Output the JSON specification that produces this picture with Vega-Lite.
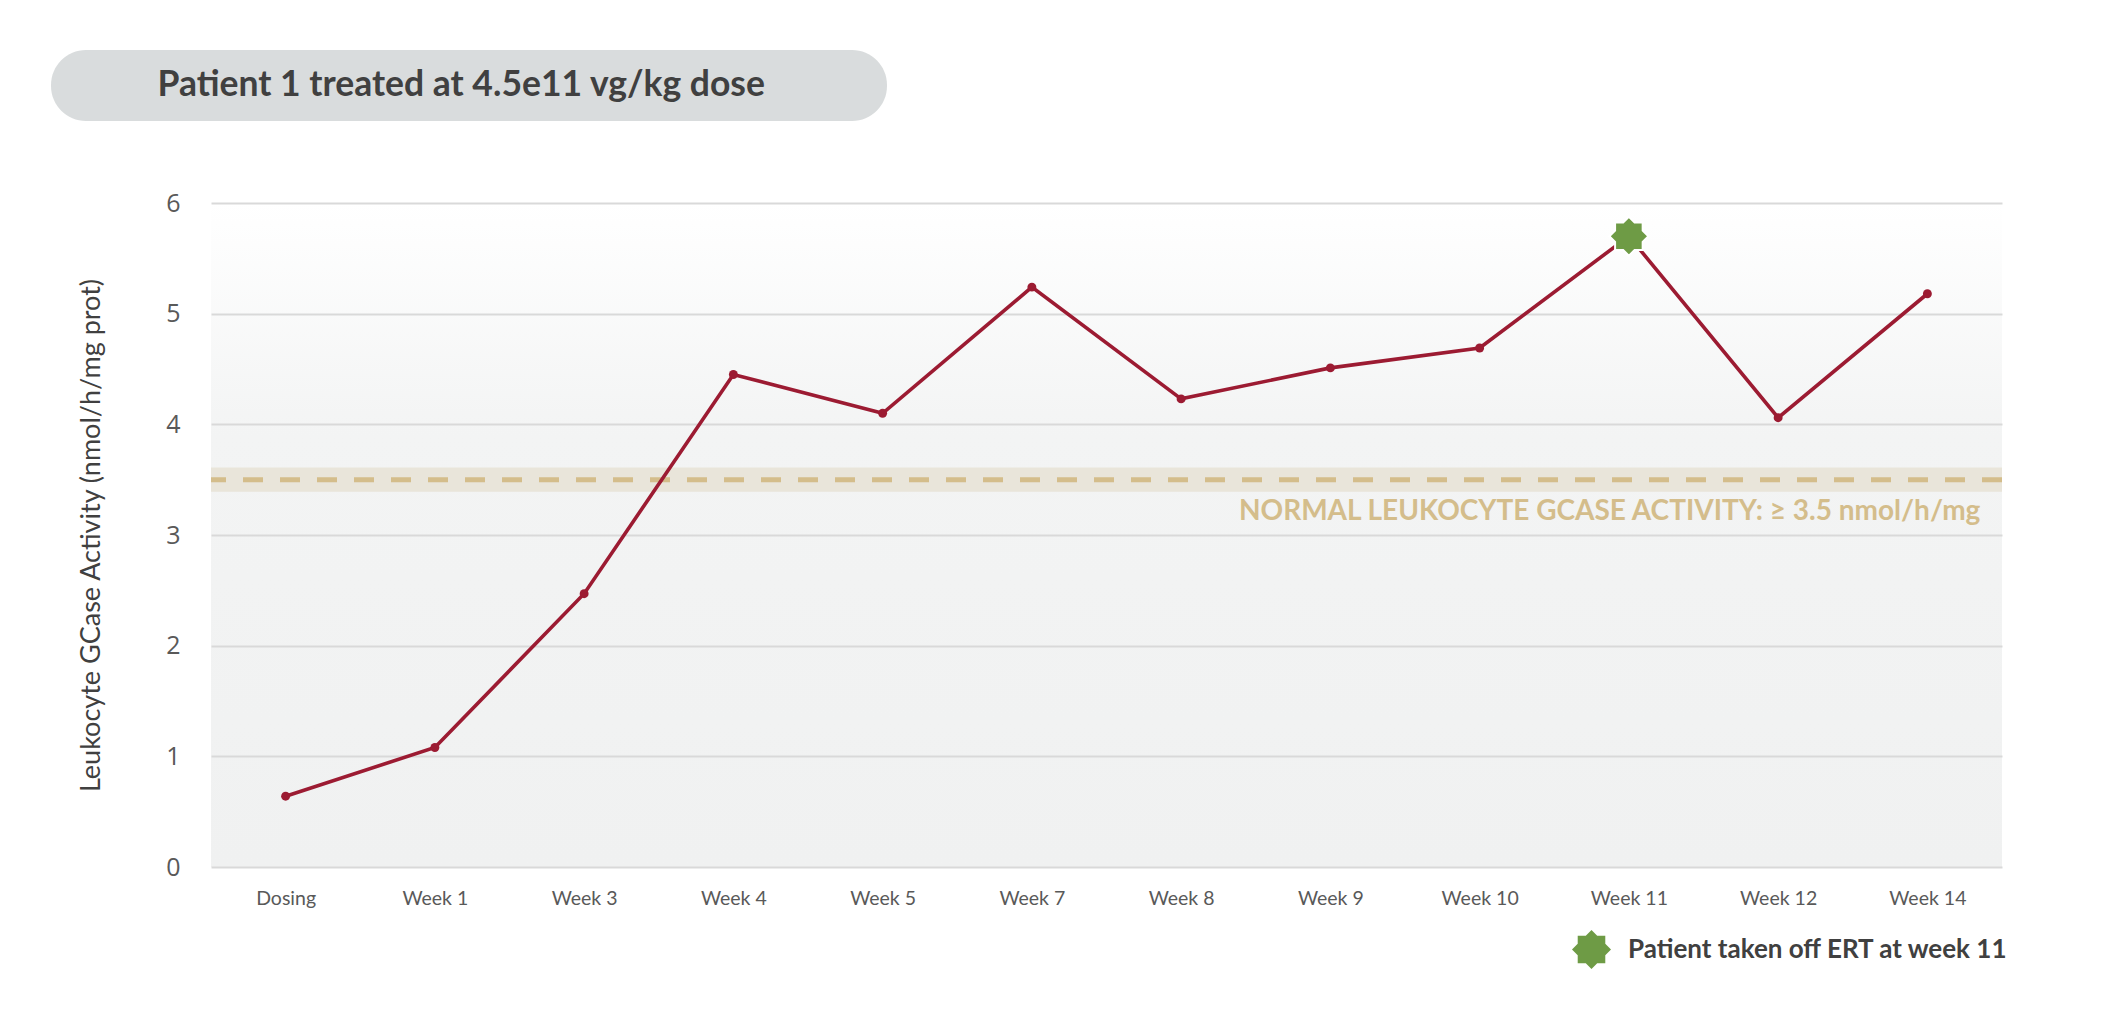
{
  "$schema": "https://vega.github.io/schema/vega-lite/v6.json",
  "width": 1791,
  "height": 664,
  "autosize": {"type": "none"},
  "padding": {"left": 211, "top": 203, "right": 105, "bottom": 142},
  "background": "#ffffff",
  "view": {
    "stroke": null,
    "fill": {
      "gradient": "linear", "x1": 0, "y1": 0, "x2": 0, "y2": 1,
      "stops": [
        {"offset": 0, "color": "#ffffff"},
        {"offset": 0.35, "color": "#f3f4f4"},
        {"offset": 1, "color": "#f0f1f1"}
      ]
    }
  },
  "datasets": {
    "visits": [
      {"visit": "Dosing", "activity": 0.64, "series": "Patient 1 treated at 4.5e11 vg/kg dose"},
      {"visit": "Week 1", "activity": 1.08, "series": "Patient 1 treated at 4.5e11 vg/kg dose"},
      {"visit": "Week 3", "activity": 2.47, "series": "Patient 1 treated at 4.5e11 vg/kg dose"},
      {"visit": "Week 4", "activity": 4.45, "series": "Patient 1 treated at 4.5e11 vg/kg dose"},
      {"visit": "Week 5", "activity": 4.10, "series": "Patient 1 treated at 4.5e11 vg/kg dose"},
      {"visit": "Week 7", "activity": 5.24, "series": "Patient 1 treated at 4.5e11 vg/kg dose"},
      {"visit": "Week 8", "activity": 4.23, "series": "Patient 1 treated at 4.5e11 vg/kg dose"},
      {"visit": "Week 9", "activity": 4.51, "series": "Patient 1 treated at 4.5e11 vg/kg dose"},
      {"visit": "Week 10", "activity": 4.69, "series": "Patient 1 treated at 4.5e11 vg/kg dose"},
      {"visit": "Week 11", "activity": 5.70, "series": "Patient 1 treated at 4.5e11 vg/kg dose"},
      {"visit": "Week 12", "activity": 4.06, "series": "Patient 1 treated at 4.5e11 vg/kg dose"},
      {"visit": "Week 14", "activity": 5.18, "series": "Patient 1 treated at 4.5e11 vg/kg dose"}
    ],
    "events": [
      {"visit": "Week 11", "activity": 5.70, "event": "Patient taken off ERT at week 11"}
    ],
    "normal": [
      {"threshold": 3.5, "low": 3.39, "high": 3.61, "note": "NORMAL LEUKOCYTE GCASE ACTIVITY: ≥ 3.5 nmol/h/mg"}
    ]
  },
  "layer": [
    {
      "data": {"name": "normal"},
      "mark": {"type": "rect", "color": "#e9e5da"},
      "encoding": {
        "y": {"field": "low", "type": "quantitative", "scale": {"domain": [0, 6]}},
        "y2": {"field": "high"}
      }
    },
    {
      "data": {"name": "normal"},
      "mark": {"type": "rule", "color": "#d4bd8b", "strokeWidth": 5, "strokeDash": [20, 17]},
      "encoding": {
        "y": {"field": "threshold", "type": "quantitative"}
      }
    },
    {
      "data": {"name": "visits"},
      "mark": {"type": "line", "strokeWidth": 3.6},
      "encoding": {
        "x": {
          "field": "visit", "type": "ordinal", "sort": null,
          "scale": {"type": "point", "padding": 0.5, "domain": ["Dosing", "Week 1", "Week 3", "Week 4", "Week 5", "Week 7", "Week 8", "Week 9", "Week 10", "Week 11", "Week 12", "Week 14"]},
          "axis": {
            "title": null, "domain": false, "ticks": false, "grid": false, "labelAngle": 0,
            "labelFont": "Lato", "labelFontSize": 19.5, "labelColor": "#595959",
            "labelPadding": 22
          }
        },
        "y": {
          "field": "activity", "type": "quantitative",
          "scale": {"domain": [0, 6]},
          "axis": {
            "title": "Leukocyte GCase Activity (nmol/h/mg prot)",
            "titleFont": "Lato", "titleFontSize": 27, "titleFontWeight": "normal", "titleColor": "#404040",
            "titlePadding": 60,
            "values": [0, 1, 2, 3, 4, 5, 6], "format": "d",
            "domain": false, "ticks": false,
            "grid": true, "gridColor": "#d9d9d9", "gridWidth": 2,
            "labelFont": "Open Sans", "labelFontSize": 25, "labelColor": "#595959", "labelPadding": 31
          }
        },
        "color": {
          "field": "series", "type": "nominal",
          "scale": {"range": ["#9c1b32"]},
          "legend": {
            "orient": "none", "legendX": -160, "legendY": -153,
            "title": null,
            "symbolSize": 0, "symbolOpacity": 0, "symbolStrokeWidth": 0,
            "labelOffset": 54,
            "labelFont": "Lato", "labelFontSize": 35.5, "labelFontWeight": "bold", "labelColor": "#404040",
            "labelLimit": 0,
            "labelExpr": "datum.label + '\u2800\u2800\u2800\u2800'",
            "fillColor": "#d9dcdd", "cornerRadius": 35, "padding": 17
          }
        }
      }
    },
    {
      "data": {"name": "visits"},
      "mark": {"type": "circle", "size": 80, "opacity": 1},
      "encoding": {
        "x": {"field": "visit", "type": "ordinal", "sort": null},
        "y": {"field": "activity", "type": "quantitative"},
        "color": {"field": "series", "type": "nominal"}
      }
    },
    {
      "data": {"name": "normal"},
      "mark": {"type": "text", "align": "right", "baseline": "alphabetic", "dx": 53, "font": "Lato", "fontSize": 28, "fontWeight": "bold", "color": "#d4bd8b"},
      "encoding": {
        "x": {"datum": "Week 14", "type": "ordinal"},
        "y": {"datum": 3.14, "type": "quantitative"},
        "text": {"field": "note"}
      }
    },
    {
      "data": {"name": "events"},
      "mark": {"type": "point", "filled": true, "color": "#6e9b45", "size": 1521, "stroke": "#ffffff", "strokeWidth": 2, "opacity": 1},
      "encoding": {
        "x": {"field": "visit", "type": "ordinal", "sort": null},
        "y": {"field": "activity", "type": "quantitative"},
        "shape": {
          "field": "event", "type": "nominal",
          "scale": {"range": ["M0,-1L0.293,-0.707L0.707,-0.707L0.707,-0.293L1,0L0.707,0.293L0.707,0.707L0.293,0.707L0,1L-0.293,0.707L-0.707,0.707L-0.707,0.293L-1,0L-0.707,-0.293L-0.707,-0.707L-0.293,-0.707Z"]},
          "legend": {
            "orient": "none", "legendX": 1361, "legendY": 727,
            "title": null,
            "symbolSize": 1521, "symbolFillColor": "#6e9b45", "symbolStrokeColor": "#6e9b45", "symbolStrokeWidth": 0,
            "labelOffset": 17,
            "labelFont": "Lato", "labelFontSize": 26, "labelFontWeight": "bold", "labelColor": "#404040",
            "labelLimit": 0, "padding": 0
          }
        }
      }
    }
  ]
}
